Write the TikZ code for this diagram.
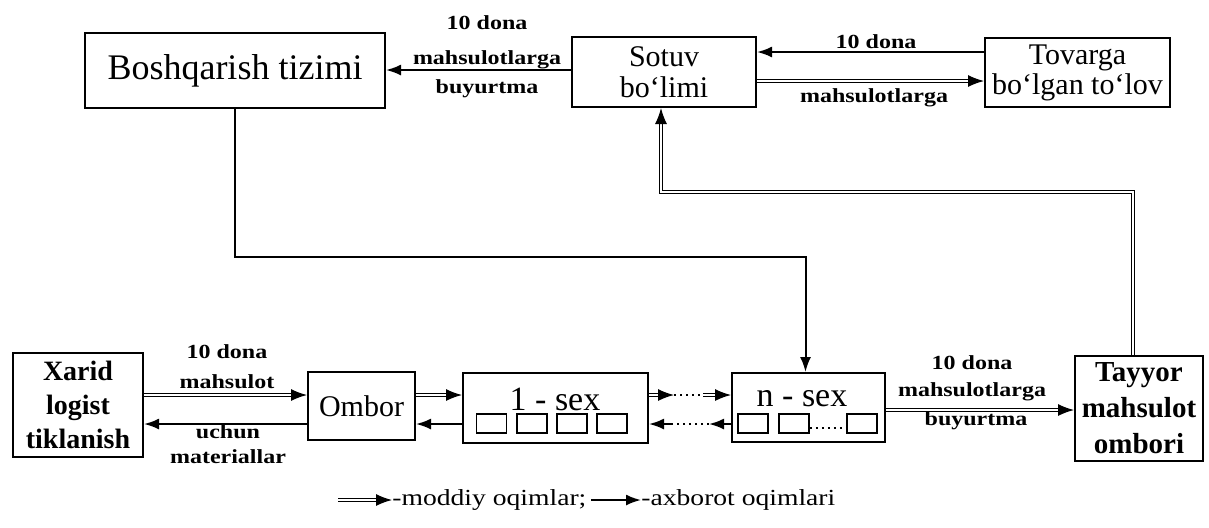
\documentclass[tikz,border=0pt]{standalone}
\usepackage{fontspec}
\setmainfont{Liberation Serif}
\newfontfamily\lblfont[FakeStretch=1.2]{Liberation Serif}
\usetikzlibrary{arrows.meta,calc}
\newcommand\matcon[2]{\draw[matline] (#1) -- (#2); \draw[mattip] ($(#2)!8pt!(#1)$) -- (#2);}
\begin{document}
\begin{tikzpicture}[x=0.5pt,y=-0.5pt,
  box/.style={draw, line width=1pt, inner sep=0pt, align=center},
  cell/.style={draw, line width=0.9pt, inner sep=0pt, minimum width=15pt, minimum height=9.5pt},
  info/.style={line width=1pt, -{Latex[length=7.5pt,width=5.5pt]}},
  matline/.style={double, double distance=1.1pt, line width=0.65pt, shorten >=3pt},
  mattip/.style={line width=0.6pt, -{Latex[length=8pt,width=6pt]}},
  dots/.style={line width=1pt, dotted},
  lbl/.style={inner sep=0pt, font=\lblfont\bfseries\fontsize{10}{11}\selectfont},
  leg/.style={inner sep=0pt, anchor=west, font=\lblfont\fontsize{11.5}{13}\selectfont}
]
\useasboundingbox (0,0) rectangle (1209,527);

% boxes
\node[box, minimum width=150pt, minimum height=37.5pt, font=\fontsize{18}{20}\selectfont] (bosh) at (235,70.5) {Boshqarish tizimi};
\node[box, minimum width=92pt, minimum height=35pt, font=\fontsize{15}{15.5}\selectfont] (sotuv) at (664,72) {Sotuv\\bo‘limi};
\node[box, minimum width=92.5pt, minimum height=34.5pt, font=\fontsize{15}{15}\selectfont] (tov) at (1077.5,72.5) {Tovarga\\bo‘lgan to‘lov};
\node[box, minimum width=65pt, minimum height=52pt, font=\bfseries\fontsize{14}{17}\selectfont] (xarid) at (78,405) {Xarid\\logist\\tiklanish};
\node[box, minimum width=53.5pt, minimum height=34pt, font=\fontsize{15}{16}\selectfont] (ombor) at (361.5,406) {Ombor};
\node[box, minimum width=92.5pt, minimum height=35pt] (sex1) at (555.5,408) {};
\node[box, minimum width=76.5pt, minimum height=34.5pt] (sexn) at (808.5,407.5) {};
\node[box, minimum width=64pt, minimum height=52.5pt, font=\bfseries\fontsize{14.5}{18}\selectfont] (tayyor) at (1139,408) {Tayyor\\mahsulot\\ombori};

% inside the workshops
\node[inner sep=0pt, font=\fontsize{17}{18}\selectfont] (t1) at (555,399) {1 - sex};
\node[cell] (c11) at (491.5,423.5) {};
\node[cell] (c12) at (532,423.5) {};
\node[cell] (c13) at (572,423.5) {};
\node[cell] (c14) at (612,423.5) {};
\node[inner sep=0pt, font=\fontsize{17}{18}\selectfont] (tn) at (802,399) {n - sex};
\node[cell] (cn1) at (753,423.5) {};
\node[cell] (cn2) at (794,423.5) {};
\node[cell] (cn3) at (862,423.5) {};
\coordinate (yK) at (0,428);
\draw[dots] (cn2.east |- yK) -- (cn3.west |- yK);

% y levels
\coordinate (yA) at (0,70);
\coordinate (yB) at (0,52);
\coordinate (yC) at (0,81);
\coordinate (yD) at (0,257);
\coordinate (yE) at (0,192);
\coordinate (yF) at (0,395);
\coordinate (yG) at (0,424);
\coordinate (yH) at (0,410);

% top connectors
\draw[info] (sotuv.west |- yA) -- (bosh.east |- yA);
\draw[info] (tov.west |- yB) -- (sotuv.east |- yB);
\coordinate (a1) at (sotuv.east |- yC);
\coordinate (a2) at (tov.west |- yC);
\matcon{a1}{a2}
\draw[info] (bosh.south) -- (bosh.south |- yD) -- ([xshift=-1.5pt]sexn.north |- yD) -- ([xshift=-1.5pt]sexn.north);
\coordinate (t0) at ([xshift=-3pt]tayyor.north);
\coordinate (t1) at (t0 |- yE);
\coordinate (t3) at ([xshift=-1.5pt]sotuv.south);
\coordinate (t2) at (t3 |- yE);
\draw[matline, shorten >=0pt] (t0) -- (t1) -- (t2) -- ($(t3)!3pt!(t2)$);
\draw[mattip] ($(t3)!8pt!(t2)$) -- (t3);

% bottom connectors
\coordinate (b1) at (xarid.east |- yF);
\coordinate (b2) at (ombor.west |- yF);
\matcon{b1}{b2}
\draw[info] (ombor.west |- yG) -- (xarid.east |- yG);
\coordinate (b3) at (ombor.east |- yF);
\coordinate (b4) at (sex1.west |- yF);
\matcon{b3}{b4}
\draw[info] (sex1.west |- yG) -- (ombor.east |- yG);
\coordinate (b5) at (sex1.east |- yF);
\coordinate (m1) at (674,395);
\coordinate (m2) at (703,395);
\coordinate (b6) at (sexn.west |- yF);
\matcon{b5}{m1}
\draw[dots] (m1) -- (m2);
\matcon{m2}{b6}
\coordinate (m3) at (709,424);
\coordinate (m4) at (671,424);
\draw[info] (sexn.west |- yG) -- (m3);
\draw[dots] (m3) -- (m4);
\draw[info] (m4) -- (sex1.east |- yG);
\coordinate (b7) at (sexn.east |- yH);
\coordinate (b8) at (tayyor.west |- yH);
\matcon{b7}{b8}

% labels
\node[lbl] (la1) at (487,23) {10 dona};
\node[lbl] (la2) at (487,60) {mahsulotlarga};
\node[lbl] (la3) at (487,89) {buyurtma};
\node[lbl] (lb1) at (876,42) {10 dona};
\node[lbl] (lb2) at (874,98) {mahsulotlarga};
\node[lbl] (lc1) at (227,352) {10 dona};
\node[lbl] (lc2) at (227,382) {mahsulot};
\node[lbl] (lc3) at (228,432) {uchun};
\node[lbl] (lc4) at (228,457) {materiallar};
\node[lbl] (ld1) at (972,363) {10 dona};
\node[lbl] (ld2) at (972,392) {mahsulotlarga};
\node[lbl] (ld3) at (976,421) {buyurtma};

% legend
\coordinate (g1a) at (338,500);
\coordinate (g1b) at (392,500);
\coordinate (g2a) at (591,500);
\coordinate (g2b) at (641,500);
\matcon{g1a}{g1b}
\node[leg] (gt1) at (g1b) {-moddiy oqimlar;};
\draw[info] (g2a) -- (g2b);
\node[leg] (gt2) at (g2b) {-axborot oqimlari};
\end{tikzpicture}
\end{document}
